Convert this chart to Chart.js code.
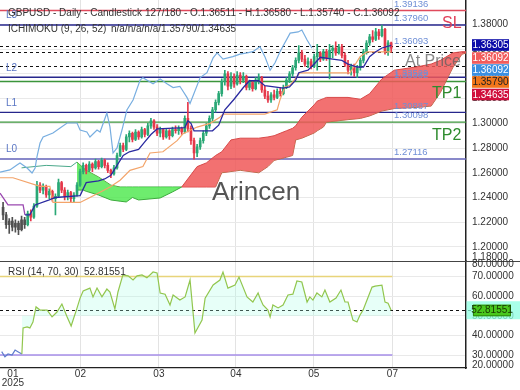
<!DOCTYPE html>
<html><head><meta charset="utf-8">
<script src="https://cdn.jsdelivr.net/npm/chart.js@4.4.1/dist/chart.umd.min.js"></script>
<style>html,body{margin:0;padding:0;background:#fff;overflow:hidden}canvas{display:block}</style>
</head><body><canvas id="c" width="520" height="390"></canvas>
<script>
// ---------- DATA ----------
const opens=[1.232,1.226,1.218,1.221,1.216,1.219,1.214,1.222,1.218,1.227,
1.224,1.233,1.250,1.246,1.249,1.242,1.245,1.239,1.241,1.252,
1.246,1.241,1.244,1.239,1.242,1.250,1.261,1.266,1.262,1.267,
1.264,1.269,1.265,1.270,1.266,1.262,1.259,1.264,1.274,1.282,
1.279,1.289,1.292,1.287,1.293,1.289,1.295,1.291,1.298,1.302,
1.297,1.292,1.295,1.289,1.294,1.290,1.295,1.294,1.296,1.293,
1.304,1.296,1.286,1.276,1.281,1.286,1.292,1.298,1.304,1.311,
1.317,1.324,1.334,1.340,1.330,1.338,1.332,1.339,1.335,1.338,
1.329,1.333,1.328,1.335,1.337,1.327,1.322,1.319,1.323,1.321,
1.326,1.324,1.329,1.335,1.340,1.345,1.351,1.357,1.352,1.348,
1.350,1.346,1.354,1.357,1.352,1.358,1.353,1.359,1.361,1.357,
1.362,1.355,1.348,1.343,1.346,1.341,1.345,1.351,1.358,1.365,
1.370,1.368,1.374,1.371,1.376,1.358,1.36511];
const highs=[1.236,1.228,1.223,1.224,1.222,1.221,1.225,1.224,1.229,1.230,
1.235,1.253,1.252,1.251,1.250,1.247,1.246,1.243,1.255,1.253,
1.248,1.246,1.245,1.244,1.252,1.263,1.268,1.267,1.269,1.268,
1.271,1.270,1.272,1.271,1.268,1.263,1.266,1.276,1.284,1.284,
1.291,1.294,1.293,1.295,1.294,1.297,1.296,1.300,1.304,1.303,
1.299,1.297,1.296,1.296,1.295,1.297,1.298,1.298,1.297,1.306,
1.317,1.298,1.288,1.283,1.288,1.294,1.300,1.306,1.313,1.319,
1.326,1.336,1.343,1.342,1.341,1.340,1.342,1.341,1.341,1.339,
1.335,1.334,1.337,1.340,1.338,1.330,1.326,1.325,1.327,1.328,
1.329,1.331,1.337,1.342,1.347,1.353,1.363,1.359,1.355,1.353,
1.352,1.356,1.364,1.358,1.360,1.360,1.364,1.363,1.366,1.364,
1.364,1.357,1.351,1.348,1.348,1.347,1.353,1.360,1.367,1.372,
1.375,1.377,1.376,1.3796,1.377,1.367,1.3658];
const lows=[1.222,1.215,1.211,1.213,1.212,1.210,1.213,1.215,1.217,1.221,
1.223,1.232,1.244,1.243,1.240,1.239,1.237,1.226,1.240,1.244,
1.238,1.238,1.236,1.236,1.241,1.249,1.259,1.259,1.261,1.261,
1.263,1.263,1.264,1.264,1.260,1.256,1.258,1.263,1.273,1.277,
1.278,1.285,1.285,1.286,1.287,1.288,1.289,1.290,1.296,1.295,
1.290,1.289,1.287,1.288,1.287,1.289,1.292,1.291,1.291,1.292,
1.293,1.283,1.271,1.273,1.279,1.284,1.290,1.296,1.302,1.309,
1.315,1.322,1.331,1.327,1.328,1.329,1.331,1.332,1.333,1.327,
1.327,1.326,1.327,1.332,1.325,1.320,1.317,1.317,1.319,1.320,
1.322,1.323,1.328,1.333,1.338,1.343,1.349,1.350,1.346,1.345,
1.344,1.345,1.343,1.350,1.351,1.351,1.336,1.353,1.355,1.356,
1.353,1.346,1.340,1.339,1.338,1.337,1.343,1.349,1.356,1.363,
1.366,1.367,1.368,1.370,1.356,1.355,1.3574];
const closes=[1.226,1.218,1.221,1.216,1.219,1.214,1.222,1.218,1.227,1.224,
1.233,1.250,1.246,1.249,1.242,1.245,1.239,1.241,1.252,1.246,
1.241,1.244,1.239,1.242,1.250,1.261,1.266,1.262,1.267,1.264,
1.269,1.265,1.270,1.266,1.262,1.259,1.264,1.274,1.282,1.279,
1.289,1.292,1.287,1.293,1.289,1.295,1.291,1.298,1.302,1.297,
1.292,1.295,1.289,1.294,1.290,1.295,1.294,1.296,1.293,1.304,
1.296,1.286,1.276,1.281,1.286,1.292,1.298,1.304,1.311,1.317,
1.324,1.334,1.340,1.330,1.338,1.332,1.339,1.335,1.338,1.329,
1.333,1.328,1.335,1.337,1.327,1.322,1.319,1.323,1.321,1.326,
1.324,1.329,1.335,1.340,1.345,1.351,1.357,1.352,1.348,1.350,
1.346,1.354,1.357,1.352,1.358,1.353,1.359,1.361,1.357,1.362,
1.355,1.348,1.343,1.346,1.341,1.345,1.351,1.358,1.365,1.370,
1.368,1.374,1.371,1.376,1.358,1.3651,1.36092];

const tenkanX=[-1,1.6,6.5,7.1,8.7,10.4,15,17,25,27,31,33,35,37,39,41,44,46,48,50,59,60,61,62,68,70,72,75,78,80,83,85,91,93,95,96,99,101,103,107,110,112,115,117,119,121,123,126];
const tenkanY=[1.2435,1.234,1.234,1.226,1.226,1.234,1.238,1.240,1.2415,1.252,1.2535,1.255,1.258,1.266,1.274,1.277,1.279,1.285,1.291,1.2955,1.2965,1.302,1.300,1.294,1.294,1.2985,1.311,1.3195,1.329,1.3345,1.3345,1.3305,1.3285,1.3295,1.335,1.341,1.343,1.348,1.3535,1.352,1.351,1.348,1.3456,1.3456,1.354,1.358,1.361,1.36305];
const kijunX=[-1,3.2,12,15.2,16.2,25,28.2,34.7,38,41.2,45.4,47.7,51.9,56.5,58.4,63,67.2,70.4,71.4,85,89,89.9,91.5,93.2,96.4,112.6,115.9,118.2,126];
const kijunY=[1.256,1.256,1.249,1.249,1.236,1.236,1.240,1.2485,1.254,1.262,1.265,1.276,1.277,1.286,1.2916,1.297,1.300,1.305,1.3075,1.3075,1.311,1.319,1.3294,1.331,1.3408,1.3408,1.354,1.3579,1.3579];
const chikouX=[-1,2.2,4.5,5.5,7.8,9.4,10.4,11,12,13,16.2,18.5,20.8,24,25,27.2,28.2,30.5,31.5,33.7,34.7,35.7,37,38.6,40.2,42.2,44.5,45.4,48.7,51,53.2,55.2,57.4,59.7,60.7,64,66.2,68.2,69.5,71.4,74.6,76.9,79.2,81.1,83.4,85,86.7,88.3,89.9,93.2,95.8,97,98.7,100.3];
const chikouY=[1.2606,1.2623,1.2663,1.2679,1.2639,1.2598,1.2639,1.2728,1.2841,1.2890,1.2922,1.2962,1.3003,1.3003,1.2946,1.2930,1.2890,1.2946,1.2930,1.3084,1.2971,1.2760,1.2801,1.2946,1.3108,1.3189,1.335,1.337,1.332,1.336,1.332,1.329,1.330,1.321,1.316,1.337,1.341,1.353,1.357,1.352,1.354,1.356,1.357,1.358,1.362,1.354,1.343,1.349,1.358,1.373,1.374,1.3756,1.3675,1.3609];
const cloudX=[24,26,27,31,35,38,40,42,44,51,55,58,63,66,69,71,74,77,83,86,88,92,94,95,97,101,102,104,105,112,116,119,123,127,135,139,142,146,149,152];
const spanA=[1.246,1.246,1.245,1.242,1.238,1.237,1.2364,1.240,1.238,1.2396,1.2445,1.2485,1.265,1.268,1.274,1.277,1.2866,1.288,1.288,1.289,1.290,1.294,1.296,1.298,1.305,1.315,1.318,1.320,1.321,1.321,1.3195,1.324,1.336,1.343,1.346,1.348,1.351,1.357,1.358,1.358];
const spanB=[1.2687,1.264,1.262,1.2566,1.250,1.2485,1.2485,1.2485,1.2485,1.2485,1.2485,1.2485,1.2485,1.2485,1.2485,1.260,1.261,1.262,1.260,1.265,1.270,1.2726,1.274,1.2866,1.288,1.2922,1.294,1.297,1.301,1.303,1.304,1.306,1.310,1.312,1.313,1.314,1.325,1.345,1.356,1.358];
const preSpanX=[6,14,22,24];
const preSpanY=[1.264,1.266,1.265,1.2687];
const rsiX=[-0.45,0.6,1.6,2.9,3.9,4.8,6.1,6.5,7.8,8.7,9.7,10.7,12,14.3,15.9,17.5,19.1,20.8,22.1,24,25,26,28.2,29.2,30.5,32.1,33.7,34.7,36.3,37.3,38.9,40.6,42.2,43.5,45.1,46.7,48.7,50,51,52.6,54.2,55.2,57.4,59.1,60.7,62.3,64.6,65.6,68.2,70.4,71.4,73,75.3,76.6,79.2,81.1,82.8,83.4,84.4,86,86.7,87.6,89.3,90.9,92.5,94.1,95.4,97,98.7,99.6,100.6,101.9,103.5,104.5,106.1,108.1,109.7,111,112,113.6,114.9,115.9,116.9,119.8,120.8,123,124,125,126];
const rsiY=[31.7,29.1,30.5,30,32.5,31.7,30.5,43.8,44.3,43.8,46.8,54.5,52.9,52.9,49.4,51.9,56,49.4,44.8,53.9,59,62.6,64.1,59.6,64.1,59.6,63.6,62.1,53.5,62.1,70.8,70.3,68.2,70.3,70.8,69.3,72.3,71.8,61.6,61,55.5,60.6,58,59.6,68.2,41.2,47.8,59,65.7,68.2,72.3,64.1,65.7,69.7,59.6,57,61.6,59,55.5,52.9,49.4,55.5,54,55.5,60.6,61,67.7,67.2,57,59.6,58,61.6,59.6,63.1,57,59,63.1,57,57,47.8,46.8,50.4,53,64.6,65.1,65.6,57,56.4,52.81551];
const rsiEarlyCount=7; // first points drawn in blue, without shading

const tickPos=[3.2,25.1,50.6,75.6,100.9,126.4];
const tickLabels=['01','02','03','04','05','07'];
const yearLabel='2025';
const priceTicks=[1.20,1.22,1.24,1.26,1.28,1.30,1.32,1.34,1.36,1.38];
const rsiTicks=[30,40,50,60,70];
const levelPrices=[1.39136,1.37960,1.3373,1.33382,1.30887,1.30098,1.27116];
const levelColors=['#e04a5c','#26268c','#26268c','#3b953b','#26268c','#3b953b','#6262b8'];
const levelLabelText=['1.39136','1.37960','1.36093','1.33529','1.33382','1.30887','1.30098','1.27116'];
const dashedLevels=[1.3626,1.3577,1.34635];
const lNames=['L3','L2','L1','L0'];
const lPrices=[1.3796,1.3373,1.30887,1.27116];
const sideBoxValues=['1.36305','1.36092','1.36092','1.35790','1.34635'];
const sideBoxColors=['#0c0ca8','#f25c5c','#3b8fe0','#f2761a','#d0103c'];
const sideBoxText=['#fff','#fff','#fff','#222','#fff'];
const rsiValue=52.81551;
const rsiLevels=[70,30];
const rsiLevelColors=['#e8d47a','#a68ee8'];
const titleMain='GBPUSD - Daily - Candlestick';
const titleOhlc='127/180 - O.1.36511 - H.1.36580 - L.1.35740 - C.1.36092';
const ichiName='ICHIMOKU (9, 26, 52)';
const ichiVals='n/a/n/a/n/a/1.35790/1.34635';

// ---------- CHART ----------
const F='"Liberation Sans", Arial, sans-serif';
Chart.defaults.font.family=F;
Chart.defaults.font.size=10;
Chart.defaults.color='#333';

const idx=opens.map((_,i)=>i);
const candleColor=i=> i<8 ? '#505050' : (closes[i]>=opens[i] ? '#2aa876' : '#e5384a');
const pts=(xs,ys)=>xs.map((x,i)=>({x,y:ys[i]}));
const rsiPts=pts(rsiX,rsiY);
const noPad=s=>{s.paddingTop=0;s.paddingBottom=0;s.paddingLeft=0;s.paddingRight=0;};

const overlay={
  id:'overlay',
  beforeDatasetsDraw(chart){
    const {ctx,chartArea:a,scales:{x,y,yR}}=chart;
    ctx.save();
    ctx.beginPath();ctx.rect(a.left,a.top,a.right-a.left,y.bottom-a.top);ctx.clip();
    levelPrices.forEach((p,i)=>{
      const py=y.getPixelForValue(p);
      ctx.strokeStyle=levelColors[i];ctx.lineWidth=1.4;
      ctx.beginPath();ctx.moveTo(a.left,py);ctx.lineTo(a.right,py);ctx.stroke();
    });
    ctx.setLineDash([3,3]);ctx.strokeStyle='#111';ctx.lineWidth=1;
    dashedLevels.forEach(p=>{
      const py=Math.round(y.getPixelForValue(p))+0.5;
      ctx.beginPath();ctx.moveTo(a.left,py);ctx.lineTo(a.right,py);ctx.stroke();
    });
    ctx.restore();
    ctx.save();
    const xe=x.getPixelForValue(tickPos[tickPos.length-1]);
    rsiLevels.forEach((v,i)=>{
      const py=yR.getPixelForValue(v);
      ctx.strokeStyle=rsiLevelColors[i];ctx.lineWidth=1.3;
      ctx.beginPath();ctx.moveTo(a.left,py);ctx.lineTo(xe,py);ctx.stroke();
    });
    ctx.setLineDash([3,3]);ctx.strokeStyle='#111';ctx.lineWidth=1;
    const ry=Math.round(yR.getPixelForValue(rsiValue))+0.5;
    ctx.beginPath();ctx.moveTo(a.left,ry);ctx.lineTo(a.right+6,ry);ctx.stroke();
    ctx.restore();
  },
  afterDatasetsDraw(chart){
    const {ctx,chartArea:a,scales:{x,y,yR}}=chart;
    ctx.save();
    ctx.textBaseline='middle';ctx.textAlign='left';
    ctx.font='9.5px '+F;ctx.fillStyle='#6f8fd6';
    levelLabelText.forEach(t=>{ctx.fillText(t,394,y.getPixelForValue(parseFloat(t))-6.5);});
    ctx.font='10px '+F;ctx.fillStyle='#5a76c4';
    lNames.forEach((n,i)=>ctx.fillText(n,6,y.getPixelForValue(lPrices[i])-9.5));
    ctx.font='16px '+F;
    ctx.fillStyle='rgba(95,95,95,0.75)';ctx.fillText('At Price',405,62);
    ctx.fillStyle='#e0405a';ctx.fillText('SL',442,23.5);
    ctx.fillStyle='#2e8b2e';ctx.fillText('TP1',432,94);ctx.fillText('TP2',432,135.5);
    ctx.font='26px '+F;ctx.fillStyle='#555';ctx.fillText('Arincen',212,193);
    ctx.font='10px '+F;ctx.fillStyle='#333';
    ctx.fillText(titleMain,8,13);ctx.fillText(titleOhlc,145,13);
    ctx.fillText(ichiName,8,29.5);ctx.fillText(ichiVals,111,29.5);
    ctx.fillText('RSI (14, 70, 30)',8,272.5);ctx.fillText(rsiValue.toFixed(5),84,272.5);
    ctx.restore();
  },
  afterDraw(chart){
    const {ctx,chartArea:a,scales:{y,yR}}=chart;
    ctx.save();
    ctx.strokeStyle='#444';ctx.lineWidth=1;
    const sy=Math.round(yR.top)+0.5;
    ctx.beginPath();ctx.moveTo(0,sy);ctx.lineTo(520,sy);ctx.stroke();
    ctx.textBaseline='middle';ctx.textAlign='left';ctx.font='10px '+F;ctx.fillStyle='#333';
    ctx.save();ctx.beginPath();ctx.rect(466,0,54,sy-0.5);ctx.clip();
    ctx.fillText('1.18000',472,257.5);ctx.restore();
    ctx.fillText('80.00000',472,264.5);
    ctx.fillText('20.00000',472,365.5);
    const cy=[45,58,70,82,94.5];
    ctx.textAlign='center';
    sideBoxValues.forEach((v,i)=>{
      ctx.fillStyle=sideBoxColors[i];ctx.fillRect(472,cy[i]-5.8,37,11.6);
      ctx.fillStyle=sideBoxText[i];ctx.fillText(v,490.5,cy[i]+0.5);
    });
    const ry=yR.getPixelForValue(rsiValue);
    ctx.fillStyle='rgba(140,255,225,0.75)';ctx.fillRect(466.5,ry-9,53.5,18);
    ctx.fillStyle='#48c81c';ctx.fillRect(473,ry-5.5,38,11.5);
    ctx.strokeStyle='#2c8a10';ctx.lineWidth=1;ctx.strokeRect(473.5,ry-5,37,10.5);
    ctx.fillStyle='#173800';ctx.fillText(rsiValue.toFixed(5),492,ry+0.5);
    ctx.restore();
  }
};

new Chart(document.getElementById('c'),{
  type:'bar',
  data:{datasets:[
    {type:'line',label:'spanA',yAxisID:'y',data:pts(cloudX,spanA),borderWidth:1,pointRadius:0,
     segment:{borderColor:c=>c.p0.parsed.x<58?'#3daa3d':'#d84a4a'},
     fill:{target:'+1',above:'rgba(240,88,88,0.85)',below:'rgba(78,232,78,0.82)'},order:20},
    {type:'line',label:'spanB',yAxisID:'y',data:pts(cloudX,spanB),borderWidth:1,pointRadius:0,
     segment:{borderColor:c=>c.p0.parsed.x<58?'#3daa3d':'#d84a4a'},fill:false,order:21},
    {type:'line',label:'spanBpre',yAxisID:'y',data:pts(preSpanX,preSpanY),borderColor:'#4aa88a',borderWidth:1,pointRadius:0,fill:false,order:19},
    {type:'bar',label:'wicks',yAxisID:'y',stack:'c',data:idx.map(i=>({x:i,y:[lows[i],highs[i]]})),
     backgroundColor:c=>candleColor(c.dataIndex),barThickness:1,order:12},
    {type:'bar',label:'bodies',yAxisID:'y',stack:'c',data:idx.map(i=>({x:i,y:[opens[i],closes[i]]})),
     backgroundColor:c=>candleColor(c.dataIndex),barThickness:2,minBarLength:1,order:11},
    {type:'line',label:'kijun',yAxisID:'y',data:pts(kijunX,kijunY),borderColor:'#f3a46a',borderWidth:1.2,pointRadius:0,fill:false,order:4},
    {type:'line',label:'chikou',yAxisID:'y',data:pts(chikouX,chikouY),borderColor:'#78aee0',borderWidth:1.2,pointRadius:0,fill:false,order:5},
    {type:'line',label:'tenkan',yAxisID:'y',data:pts(tenkanX,tenkanY),borderColor:'#2a2aa0',borderWidth:1.3,pointRadius:0,fill:false,
     segment:{borderColor:c=>c.p0.parsed.x<7?'#9a48b0':undefined},order:3},
    {type:'line',label:'rsiEarly',yAxisID:'yR',data:rsiPts.slice(0,rsiEarlyCount),borderColor:'#5f7ccc',borderWidth:1.2,pointRadius:0,fill:false,order:2},
    {type:'line',label:'rsi',yAxisID:'yR',data:rsiPts.slice(rsiEarlyCount-1),borderColor:'#92c64e',borderWidth:1.2,pointRadius:0,
     fill:{value:50,above:'rgba(175,255,232,0.3)',below:'rgba(175,255,232,0.3)'},order:1}
  ]},
  options:{
    responsive:false,animation:false,devicePixelRatio:1,
    layout:{padding:0},
    plugins:{legend:{display:false},tooltip:{enabled:false}},
    scales:{
      x:{type:'linear',min:-1,max:150.3,offset:false,stacked:true,
        grid:{offset:false,drawTicks:false,color:c=>c.index===0?'rgba(0,0,0,0)':'#e3e3e3'},
        border:{display:true,color:'#222',width:1.2},
        ticks:{autoSkip:false,maxRotation:0,padding:2,color:'#333',font:{size:10,lineHeight:0.9},
          callback:(v,i)=> i===0?[tickLabels[0],yearLabel]:tickLabels[i]},
        afterBuildTicks:s=>{s.ticks=tickPos.map(v=>({value:v}));},
        afterFit:s=>{s.height=22;noPad(s);}},
      y:{type:'linear',position:'right',stack:'p',stackWeight:260.5,min:1.18902,max:1.39983,stacked:false,
        grid:{drawTicks:false,color:'#e9e9e9'},
        border:{display:true,color:'#222',width:1.5},
        ticks:{autoSkip:false,padding:6,color:'#333',font:{size:10},callback:v=>Number(v).toFixed(5)},
        afterBuildTicks:s=>{s.ticks=priceTicks.map(v=>({value:v}));},
        afterFit:s=>{s.width=54;noPad(s);}},
      yR:{type:'linear',position:'right',stack:'p',stackWeight:107.5,min:23.38,max:78.15,stacked:false,
        grid:{drawTicks:false,color:'#e9e9e9'},
        border:{display:true,color:'#222',width:1.5},
        ticks:{autoSkip:false,padding:6,color:'#333',font:{size:10},callback:v=>Number(v).toFixed(5)},
        afterBuildTicks:s=>{s.ticks=rsiTicks.map(v=>({value:v}));},
        afterFit:s=>{s.width=54;noPad(s);}}
    }
  },
  plugins:[overlay]
});
</script>
</body></html>
